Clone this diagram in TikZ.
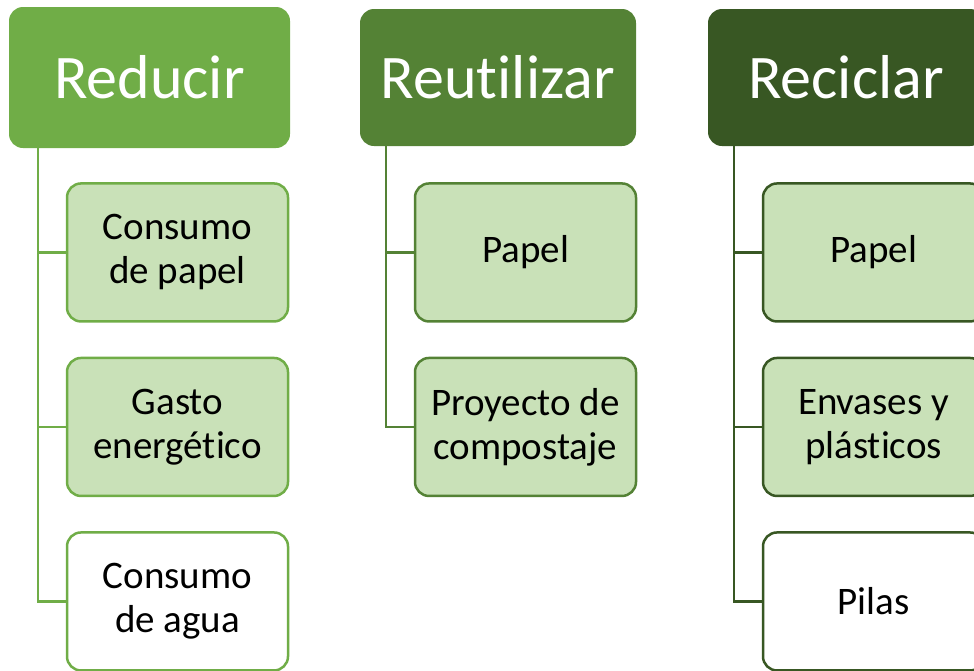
\documentclass[tikz,border=0pt]{standalone}
\usepackage{fontspec}
\setmainfont{Carlito}[RawFeature=-liga]
\usepackage{tikz}
\usetikzlibrary{positioning}

\definecolor{reducirgreen}{HTML}{70AD47}
\definecolor{reutilgreen}{HTML}{548235}
\definecolor{reciclgreen}{HTML}{385723}
\definecolor{itemfill}{HTML}{C9E1B8}

\begin{document}
\begin{tikzpicture}[x=1pt,y=-1pt,node distance=34pt]
    \tikzstyle{head}=[rectangle,rounded corners=14pt,text=white,inner sep=0pt,
                      minimum height=139pt,font=\fontsize{62}{66}\selectfont]
    \tikzstyle{item}=[rectangle,rounded corners=14pt,draw,line width=2.5pt,fill=white,
                      minimum width=221pt,minimum height=138pt,inner sep=0pt,
                      align=center,font=\fontsize{39}{44}\selectfont]
    \tikzstyle{light item}=[item,fill=itemfill]
    \tikzstyle{link}=[line width=2.5pt]

    \useasboundingbox (0,0) rectangle (974,670);

    % Headers
    \node[head,fill=reducirgreen,minimum width=281pt,minimum height=141pt] (Red) at (149.5,77.5) {Reducir};
    \node[head,fill=reutilgreen,minimum width=276pt,minimum height=137pt] (Reu) at (498,77.5) {Reutilizar};
    \node[head,fill=reciclgreen,minimum width=276pt,minimum height=137pt] (Rec) at (846,77.5) {Reciclar};

    % Reducir column
    \node[light item,draw=reducirgreen,below=34pt of Red,xshift=28pt] (Red-1) {Consumo\\de papel};
    \node[light item,draw=reducirgreen,below=of Red-1] (Red-2) {Gasto\\energético};
    \node[item,draw=reducirgreen,below=of Red-2] (Red-3) {Consumo\\de agua};

    % Reutilizar column
    \node[light item,draw=reutilgreen,below=36pt of Reu,xshift=27.5pt] (Reu-1) {Papel};
    \node[light item,draw=reutilgreen,below=of Reu-1] (Reu-2) {Proyecto de\\compostaje};

    % Reciclar column
    \node[light item,draw=reciclgreen,below=36pt of Rec,xshift=27.5pt] (Rec-1) {Papel};
    \node[light item,draw=reciclgreen,below=of Rec-1] (Rec-2) {Envases y\\plásticos};
    \node[item,draw=reciclgreen,below=of Rec-2] (Rec-3) {Pilas};

    % Connect each header with its items
    \coordinate (Red-t) at ([xshift=29pt]Red.south west);
    \coordinate (Reu-t) at ([xshift=26pt]Reu.south west);
    \coordinate (Rec-t) at ([xshift=26pt]Rec.south west);
    \foreach \dest in {1,...,3}
        \draw[link,reducirgreen] (Red-t) |- (Red-\dest.west);
    \foreach \dest in {1,2}
        \draw[link,reutilgreen] (Reu-t) |- (Reu-\dest.west);
    \foreach \dest in {1,...,3}
        \draw[link,reciclgreen] (Rec-t) |- (Rec-\dest.west);
\end{tikzpicture}
\end{document}
